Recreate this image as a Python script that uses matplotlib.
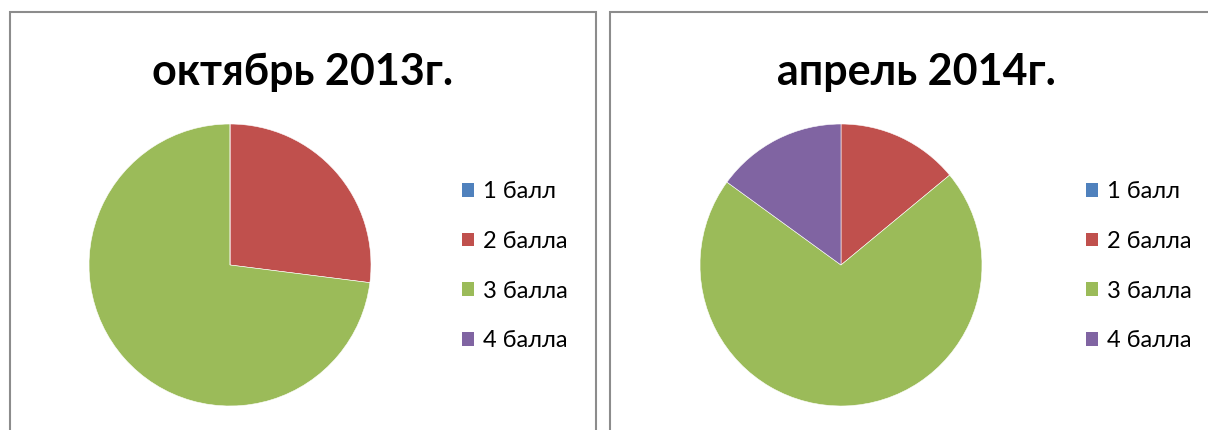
import matplotlib.pyplot as plt
from matplotlib.patches import Rectangle, Patch

plt.rcParams['font.family'] = ['Lato', 'DejaVu Sans']

# data
categories = ['1 балл', '2 балла', '3 балла', '4 балла']
colors = ['#4F81BD', '#C0504D', '#9BBB59', '#8064A2']
oct_2013 = [0, 27, 73, 0]
apr_2014 = [0, 14, 71, 15]
titles = ['октябрь 2013г.', 'апрель 2014г.']

W, H = 1208, 430
fig = plt.figure(figsize=(W / 100, H / 100), dpi=100)


def fx(px):
    return px / W


def fy(py):
    return 1 - py / H


# panel frames (px): left, right
panels = [(10, 596), (610, 1222)]
for x0, x1 in panels:
    fig.patches.append(Rectangle((fx(x0), fy(460)), fx(x1 - x0), (460 - 12) / H,
                                 transform=fig.transFigure, fill=False,
                                 edgecolor='#8c8c8c', linewidth=1.5))

pie_centers = [(230, 265), (841, 265)]
legend_x = [462, 1086]
r = 141
for i, vals in enumerate([oct_2013, apr_2014]):
    cx, cy = pie_centers[i]
    ax = fig.add_axes([fx(cx - r), fy(cy + r), 2 * r / W, 2 * r / H])
    ax.pie(vals, colors=colors, startangle=90, counterclock=False, radius=1,
           wedgeprops=dict(edgecolor='white', linewidth=0.4))
    ax.set_xlim(-1, 1)
    ax.set_ylim(-1, 1)
    ax.set_aspect('equal')
    ax.axis('off')

    x0, x1 = panels[i]
    fig.text(fx((x0 + x1) / 2), fy(85), titles[i], ha='center', va='baseline',
             fontsize=31, fontweight='bold', color='black')

    handles = [Patch(facecolor=c, edgecolor='none') for c in colors]
    fig.legend(handles, categories, loc='upper left',
               bbox_to_anchor=(fx(legend_x[i]), fy(181)),
               frameon=False, fontsize=17, handlelength=0.52, handleheight=0.52,
               handletextpad=0.38, labelspacing=1.22, borderpad=0, borderaxespad=0)

fig.savefig('out.png', dpi=100)
